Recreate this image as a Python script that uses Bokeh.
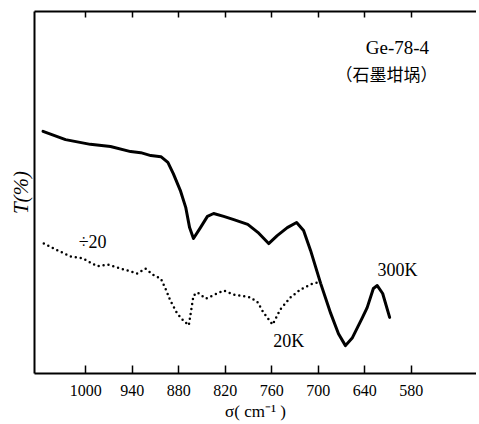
from bokeh.plotting import figure
from bokeh.models import Range1d, LinearAxis, FixedTicker, Label
from bokeh.embed import file_html
from bokeh.resources import INLINE

# 300K spectrum (solid), wavenumber in cm^-1, T in arbitrary %
wn_300 = [1055, 1026, 994, 968, 942, 929, 916, 903, 894, 887, 878, 871, 866, 861,
          852, 843, 835, 822, 809, 791, 778, 764, 753, 740, 728, 719, 710, 697,
          684, 674, 665, 656, 643, 637, 629, 624, 617, 608]
t_300 = [66.9, 64.6, 63.3, 62.7, 61.3, 61.0, 60.2, 59.9, 58.3, 55.2, 50.6, 45.9, 40.3, 37.3,
         40.3, 43.4, 44.2, 43.4, 42.5, 41.2, 39.0, 35.9, 38.1, 40.3, 41.7, 39.5, 34.0, 24.9,
         16.6, 11.0, 7.7, 9.9, 15.5, 18.2, 23.5, 24.3, 22.1, 15.5]

# 20K spectrum (dotted, divided by 20)
wn_20 = [1054, 1036, 1019, 1004, 985, 972, 955, 942, 934, 923, 912, 903, 896, 891,
         882, 874, 867, 861, 856, 845, 822, 809, 787, 778, 771, 759, 749, 736, 723, 710, 697]
t_20 = [35.9, 34.0, 32.3, 31.8, 29.6, 30.1, 29.0, 28.2, 27.6, 29.0, 27.1, 26.2, 22.9, 20.2,
        16.6, 14.6, 13.3, 21.5, 22.4, 20.7, 22.9, 21.8, 21.0, 19.6, 16.9, 13.5, 17.7, 21.0, 23.2, 24.6, 25.4]

x_ticks = [1000, 940, 880, 820, 760, 700, 640, 580]

SERIF = "'Liberation Serif'"

p = figure(width=476, height=424, output_backend="svg", toolbar_location=None,
           x_range=Range1d(1066, 496), y_range=Range1d(0, 100),
           min_border_left=34, min_border_right=0, min_border_top=11, min_border_bottom=51,
           outline_line_color=None)
p.background_fill_color = "white"
p.border_fill_color = "white"
p.xgrid.visible = False
p.ygrid.visible = False

# bottom axis
xa = p.xaxis[0]
xa.ticker = FixedTicker(ticks=x_ticks)
xa.minor_tick_line_color = None
xa.major_tick_in = 8
xa.major_tick_out = 0
xa.major_tick_line_width = 1.5
xa.axis_line_width = 2
xa.major_label_standoff = 11
xa.major_label_text_font = SERIF
xa.major_label_text_font_size = "16px"
xa.major_label_text_color = "black"
xa.axis_label = "σ( cm⁻¹ )"
xa.axis_label_text_font = SERIF
xa.axis_label_text_font_style = "normal"
xa.axis_label_text_font_size = "17px"
xa.axis_label_text_color = "black"
xa.axis_label_standoff = 3

# top axis
ta = LinearAxis(ticker=FixedTicker(ticks=x_ticks))
ta.major_label_overrides = {t: "" for t in x_ticks}
ta.major_label_standoff = 0
ta.minor_tick_line_color = None
ta.major_tick_in = 6
ta.major_tick_out = 0
ta.major_tick_line_width = 1.5
ta.axis_line_width = 2
p.add_layout(ta, "above")

# left axis
ya = p.yaxis[0]
ya.ticker = FixedTicker(ticks=[])
ya.minor_tick_line_color = None
ya.major_tick_in = 0
ya.major_tick_out = 0
ya.major_label_standoff = 0
ya.axis_line_width = 2
ya.axis_label = "T(%)"
ya.axis_label_text_font = SERIF
ya.axis_label_text_font_style = "italic"
ya.axis_label_text_font_size = "21px"
ya.axis_label_text_color = "black"
ya.axis_label_standoff = 2

p.line(wn_300, t_300, line_color="black", line_width=3, line_join="round", line_cap="round")
p.line(wn_20, t_20, line_color="black", line_width=2.5, line_dash="0 5", line_cap="round")

def lab(x, y, text, size="16px", font=SERIF):
    p.add_layout(Label(x=x, y=y, text=text, text_font=font, text_font_size=size,
                       text_align="center", text_baseline="middle", text_color="black"))

lab(598, 90, "Ge-78-4", "19px")
lab(612, 83, "（石墨坩埚）", "17px", "Noto Sans CJK SC")
lab(991, 36.2, "÷20", "18px")
lab(598, 28.5, "300K", "18px")
lab(738, 9.1, "20K", "18px")

open("out.html", "w").write(file_html(p, INLINE))
